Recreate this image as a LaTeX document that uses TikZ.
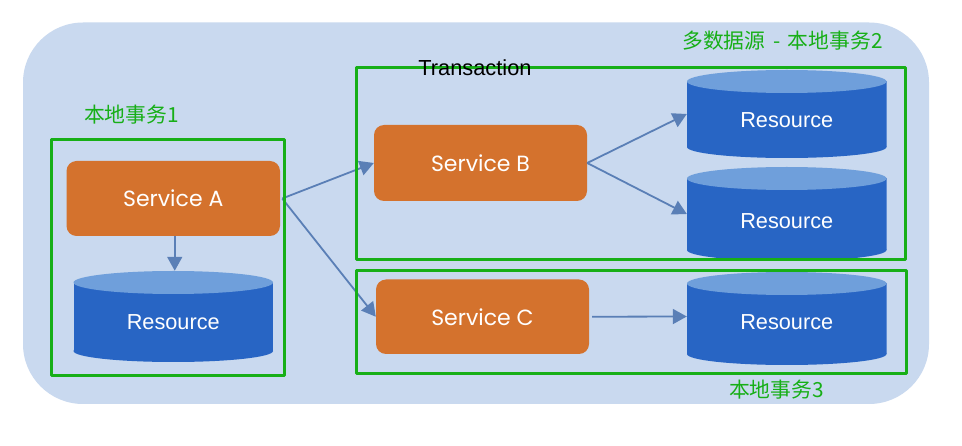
\documentclass[tikz,border=0pt]{standalone}
\usepackage{fontspec}
\setmainfont{Liberation Sans}
\newfontfamily\cjkf{Noto Sans CJK SC}
\newfontfamily\svcf{Poppins}
\usetikzlibrary{arrows.meta}
\definecolor{bgblue}{HTML}{C9D9EF}
\definecolor{svcorange}{HTML}{D4722D}
\definecolor{resblue}{HTML}{2865C4}
\definecolor{restop}{HTML}{6F9FDB}
\definecolor{linkblue}{HTML}{5A7FB6}
\definecolor{boxgreen}{HTML}{17AF17}
\tikzset{
  x=1pt,y=-1pt,
  service/.style={fill=svcorange,rounded corners=10pt,text=white,inner sep=0pt,font=\svcf\fontsize{22}{24}\selectfont},
  resource/.style={inner sep=0pt,text=white,minimum width=199.5pt,text height=#1,text depth=0pt,font=\fontsize{21.7}{24}\selectfont,
    path picture={
      \fill[resblue] ([yshift=-11.5pt]path picture bounding box.north west) rectangle ([yshift=11pt]path picture bounding box.south east);
      \fill[resblue] ([yshift=11pt]path picture bounding box.south) ellipse[x radius=99.75pt,y radius=11pt];
      \fill[restop] ([yshift=-11.5pt]path picture bounding box.north) ellipse[x radius=99.75pt,y radius=11.5pt];
    }},
  tx/.style={boxgreen,line width=3pt,line join=round},
  link/.style={draw=linkblue,line width=1.8pt,-{Triangle[length=14pt,width=15pt]}},
  greenlabel/.style={text=boxgreen,inner sep=0pt,font=\cjkf\fontsize{20.8}{22}\selectfont},
}
\begin{document}
\begin{tikzpicture}
\useasboundingbox (0,0) rectangle (962,446);
\fill[white] (0,0) rectangle (962,446);
\fill[bgblue,rounded corners=60pt] (23,22.5) rectangle (929,404);

\node[service,minimum width=213.5pt,minimum height=75pt] (sa) at (173.25,198.5) {Service A};
\node[service,minimum width=213pt,minimum height=76pt] (sb) at (480.5,163) {Service B};
\node[service,minimum width=213pt,minimum height=74.5pt] (sc) at (482.5,316.75) {Service C};

\node[resource=25.6pt,minimum height=91pt] (r0) at (173.25,316.5) {Resource};
\node[resource=27.6pt,minimum height=88pt] (r1) at (786.75,114) {Resource};
\node[resource=29.6pt,minimum height=94pt] (r2) at (786.75,214) {Resource};
\node[resource=21.6pt,minimum height=93pt] (r3) at (786.75,318.5) {Resource};

\draw[link] ([xshift=2pt]sa.east) -- (sb.west);
\draw[link] ([xshift=2pt]sa.east) -- (sc.west);
\draw[link] ([xshift=1.5pt]sa.south) -- ([xshift=1.5pt]r0.north);
\draw[link] (sb.east) -- (r1.west);
\draw[link] (sb.east) -- (r2.west);
\draw[link,shorten <=3pt] (sc.east) -- ([yshift=2pt]r3.west);

\draw[tx] (51.5,140) rectangle (284,375.5);
\draw[tx] (356,68) rectangle (905,260);
\draw[tx] (356,270.5) rectangle (906,373.5);

\node[inner sep=0pt,font=\fontsize{21.8}{24}\selectfont] (tr) at (475,68) {Transaction};
\node[greenlabel] (l1) at (131.5,114.5) {本地事务1};
\node[greenlabel] (l2) at (782.5,41) {多数据源\hspace{3pt} - \hspace{3pt}本地事务2};
\node[greenlabel] (l3) at (776.5,389.5) {本地事务3};
\end{tikzpicture}
\end{document}
